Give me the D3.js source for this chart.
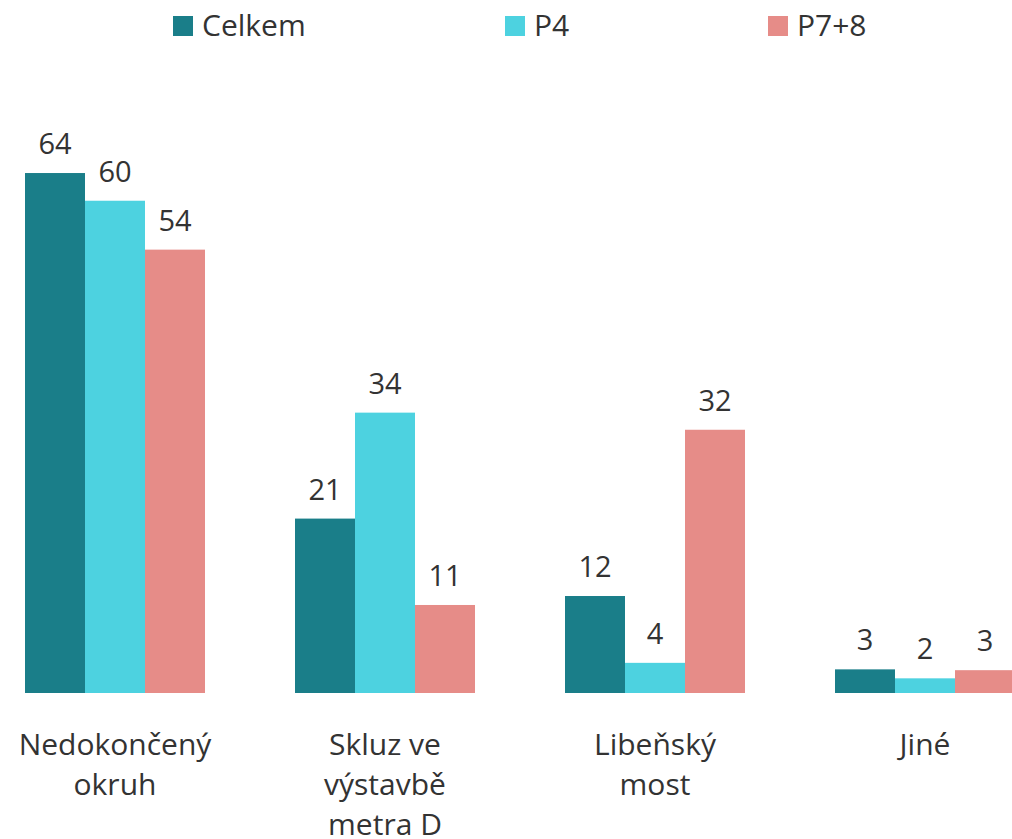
<!DOCTYPE html>
<html>
<head>
<meta charset="utf-8">
<script src="https://cdn.jsdelivr.net/npm/d3@7"></script>
<style>
  body { margin: 0; background: #fff; }
  text { font-family: "Segoe UI", "Open Sans", sans-serif; fill: #333; }
</style>
</head>
<body>
<div id="chart"></div>
<script>
const categories = [["Nedokončený", "okruh"], ["Skluz ve", "výstavbě", "metra D"], ["Libeňský", "most"], ["Jiné"]]
const seriesNames = ["Celkem", "P4", "P7+8"]
const celkem = [63.8, 21.4, 11.9, 2.9]
const p4 = [60.4, 34.4, 3.7, 1.8]
const p78 = [54.4, 10.8, 32.3, 2.8]
const colors = ["#1a7e89", "#4dd2e0", "#e68c88"]

const width = 1012
const height = 839
const baseY = 693

const svg = d3.select("#chart").append("svg")
    .attr("width", width)
    .attr("height", height)

const series = [celkem, p4, p78]

const x0 = d3.scaleBand()
    .domain(d3.range(categories.length))
    .range([-20, 1060])
    .paddingInner(1 / 3)
    .paddingOuter(1 / 6)
const x1 = d3.scaleBand()
    .domain(d3.range(seriesNames.length))
    .range([0, x0.bandwidth()])
const y = d3.scaleLinear()
    .domain([0, 64])
    .range([baseY, baseY - 64 * 8.15])

const groups = svg.append("g").selectAll("g")
    .data(categories)
    .join("g")
    .attr("transform", (d, i) => "translate(" + x0(i) + ",0)")

groups.each(function (cat, ci) {
    const g = d3.select(this)
    series.forEach((s, si) => {
        g.append("rect")
            .attr("x", x1(si))
            .attr("y", y(s[ci]))
            .attr("width", x1.bandwidth())
            .attr("height", baseY - y(s[ci]))
            .attr("fill", colors[si])
        g.append("text")
            .attr("x", x1(si) + x1.bandwidth() / 2)
            .attr("y", y(s[ci]) - 19)
            .attr("text-anchor", "middle")
            .attr("font-size", "29px")
            .text(Math.round(s[ci]))
    })
    const t = g.append("text")
        .attr("text-anchor", "middle")
        .attr("font-size", "30px")
    cat.forEach((line, li) => {
        t.append("tspan")
            .attr("x", x0.bandwidth() / 2)
            .attr("y", 755 + li * 40)
            .text(line)
    })
})

// legend
const legendX = [173, 505, 768]
seriesNames.forEach((name, i) => {
    svg.append("rect")
        .attr("x", legendX[i])
        .attr("y", 16)
        .attr("width", 20)
        .attr("height", 20)
        .attr("fill", colors[i])
    svg.append("text")
        .attr("x", legendX[i] + 29)
        .attr("y", 36)
        .attr("font-size", "30px")
        .text(name)
})
</script>
</body>
</html>
